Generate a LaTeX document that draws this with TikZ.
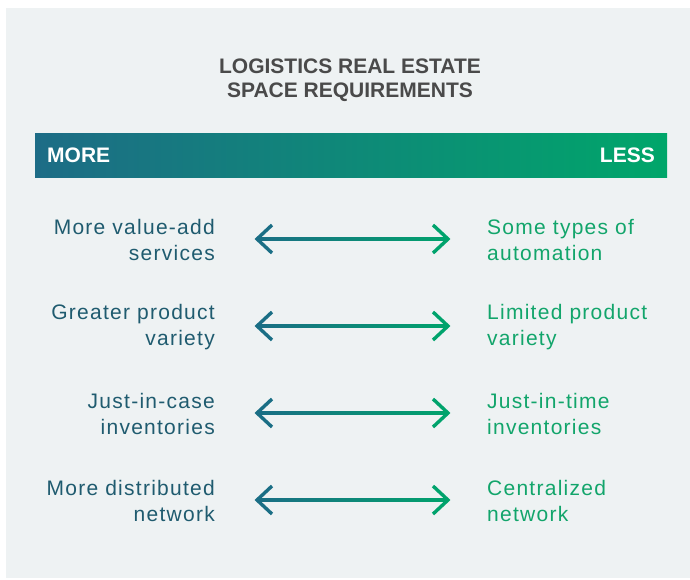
\documentclass[tikz,border=0pt]{standalone}
\usepackage{fontspec}
\setmainfont{Liberation Sans}
\newfontfamily\bodyfont[LetterSpace=6]{Liberation Sans}
\usetikzlibrary{calc}
\definecolor{panel}{HTML}{EEF2F3}
\definecolor{titlegray}{HTML}{4A4A4A}
\definecolor{barL}{HTML}{1D6C86}
\definecolor{barM}{HTML}{00827F}
\definecolor{barR}{HTML}{00A66A}
\definecolor{arrL}{HTML}{1A6E85}
\definecolor{arrR}{HTML}{00A36C}
\definecolor{lefttext}{HTML}{1F5B6F}
\definecolor{righttext}{HTML}{12A56B}
\tikzset{
  titletext/.style={text=titlegray, font=\fontsize{21}{24}\selectfont\bfseries, align=center, inner sep=0pt},
  bartext/.style={text=white, font=\fontsize{21}{24}\selectfont\bfseries, inner sep=0pt},
  lefttextstyle/.style={text=lefttext, font=\bodyfont\fontsize{21}{25.5}\selectfont, align=right, anchor=east, inner sep=0pt},
  righttextstyle/.style={text=righttext, font=\bodyfont\fontsize{21}{25.5}\selectfont, align=left, anchor=west, inner sep=0pt},
  chevL/.style={draw=arrL, line width=3.4pt, line join=miter, line cap=butt},
  chevR/.style={draw=arrR, line width=3.4pt, line join=miter, line cap=butt},
}
\begin{document}
\begin{tikzpicture}[x=1pt,y=-1pt]
\useasboundingbox (0,0) rectangle (690,579);
\fill[white] (0,0) rectangle (690,579);
\fill[panel] (6,8) rectangle (690,578);
\node[titletext] (title) at (350,80) {LOGISTICS REAL ESTATE\\SPACE REQUIREMENTS};
\shade[left color=barL, middle color=barM, right color=barR] (35,133) rectangle (667,177);
\node[bartext, anchor=west] (more) at (47,155) {MORE};
\node[bartext, anchor=east] (less) at (655,155) {LESS};
\foreach \y/\lt/\rt [count=\i] in {
  240/{More value-add\\services}/{Some types of\\automation},
  327/{Greater product\\variety}/{Limited product\\variety},
  414/{Just-in-case\\inventories}/{Just-in-time\\inventories},
  501/{More distributed\\network}/{Centralized\\network}}{
  \node[lefttextstyle] (l\i) at (215,\y) {\lt};
  \node[righttextstyle] (r\i) at (487,\y) {\rt};
  \coordinate (aL\i) at (257,\y-1);
  \coordinate (aR\i) at (448,\y-1);
  \shade[left color=arrL, right color=arrR] ($(aL\i)+(1,-1.7)$) rectangle ($(aR\i)+(-1,1.7)$);
  \draw[chevL] ($(aL\i)+(15,-14)$) -- (aL\i) -- ($(aL\i)+(15,14)$);
  \draw[chevR] ($(aR\i)+(-15,-14)$) -- (aR\i) -- ($(aR\i)+(-15,14)$);
}
\end{tikzpicture}
\end{document}
